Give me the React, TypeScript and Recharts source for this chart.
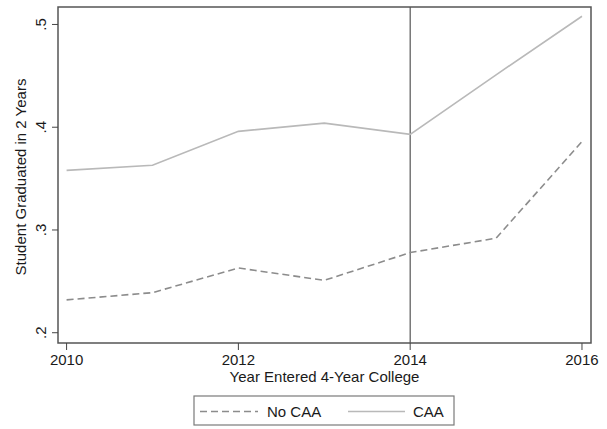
import React from 'react';
import { LineChart, Line, XAxis, YAxis, ReferenceLine, ReferenceArea } from 'recharts';

// Cohort years and share of students graduating within two years
const years = [2010, 2011, 2012, 2013, 2014, 2015, 2016];
const noCaa = [0.232, 0.239, 0.263, 0.251, 0.278, 0.292, 0.386];
const caa = [0.358, 0.363, 0.396, 0.404, 0.393, 0.451, 0.508];

const xTicks = [2010, 2012, 2014, 2016];
const yTicks = [0.2, 0.3, 0.4, 0.5];
const policyYear = 2014;

const seriesNames = { noCaa: 'No CAA', caa: 'CAA' };

const data = years.map((year, i) => ({ year, noCaa: noCaa[i], caa: caa[i] }));

const FONT = '"Liberation Sans", Arial, Helvetica, sans-serif';
const TEXT = '#1a1a1a';
const CAA_COLOR = '#b9b9b9';
const NO_CAA_COLOR = '#8c8c8c';

// Stata-style tick labels: leading zero dropped, rotated on the y axis
const fmt = (v: number) => v.toFixed(1).replace(/^0/, '');

const YTick = (props: any) => {
  const { x, y, payload } = props;
  const bx = x - 4;
  return (
    <text
      x={bx}
      y={y}
      transform={`rotate(-90, ${bx}, ${y})`}
      textAnchor="middle"
      fontFamily={FONT}
      fontSize={15}
      fill={TEXT}
    >
      {fmt(payload.value)}
    </text>
  );
};

const XTick = (props: any) => {
  const { x, y, payload } = props;
  return (
    <text x={x} y={y + 13} textAnchor="middle" fontFamily={FONT} fontSize={15} fill={TEXT}>
      {payload.value}
    </text>
  );
};

const Legend = () => (
  <svg
    width={262}
    height={31}
    style={{ position: 'absolute', left: 193, top: 395 }}
  >
    <rect x={1} y={1} width={260} height={29} fill="#fff" stroke="#7a7a7a" strokeWidth={1.2} />
    <line x1={7} y1={16.5} x2={65} y2={16.5} stroke={NO_CAA_COLOR} strokeWidth={1.5} strokeDasharray="7 4" />
    <text x={74} y={22} fontFamily={FONT} fontSize={15} fill={TEXT}>{seriesNames.noCaa}</text>
    <line x1={155} y1={16.5} x2={212} y2={16.5} stroke={CAA_COLOR} strokeWidth={1.5} />
    <text x={220} y={22} fontFamily={FONT} fontSize={15} fill={TEXT}>{seriesNames.caa}</text>
  </svg>
);

const App: React.FC = () => (
  <div style={{ position: 'absolute', left: 0, top: 0, width: 607, height: 429, background: '#fff' }}>
    <LineChart width={607} height={429} data={data} margin={{ top: 7, right: 16, left: 0, bottom: 0 }}>
      <XAxis
        dataKey="year"
        type="number"
        domain={[2009.9, 2016.105]}
        ticks={xTicks}
        height={86}
        tickSize={7}
        tick={<XTick />}
        axisLine={false}
        tickLine={{ stroke: '#444', strokeWidth: 1 }}
        label={{
          content: ({ viewBox }: any) => (
            <text
              x={viewBox.x + viewBox.width / 2}
              y={viewBox.y + 39}
              textAnchor="middle"
              fontFamily={FONT}
              fontSize={15}
              fill={TEXT}
            >
              Year Entered 4-Year College
            </text>
          ),
        }}
      />
      <YAxis
        type="number"
        domain={[0.19, 0.517]}
        ticks={yTicks}
        width={58}
        tickSize={6}
        tick={<YTick />}
        axisLine={false}
        tickLine={{ stroke: '#444', strokeWidth: 1 }}
        label={{
          content: ({ viewBox }: any) => {
            const lx = 26;
            const ly = viewBox.y + viewBox.height / 2 + 2;
            return (
              <text
                x={lx}
                y={ly}
                transform={`rotate(-90, ${lx}, ${ly})`}
                textAnchor="middle"
                fontFamily={FONT}
                fontSize={15}
                fill={TEXT}
              >
                Student Graduated in 2 Years
              </text>
            );
          },
        }}
      />
      <ReferenceArea
        x1={2009.9}
        x2={2016.105}
        y1={0.19}
        y2={0.517}
        fill="none"
        stroke="#555"
        strokeWidth={1.5}
        ifOverflow="visible"
      />
      <ReferenceLine x={policyYear} stroke="#555" strokeWidth={1.2} />
      <Line
        dataKey="noCaa"
        name={seriesNames.noCaa}
        stroke={NO_CAA_COLOR}
        strokeWidth={1.6}
        strokeDasharray="7 4"
        dot={false}
        isAnimationActive={false}
      />
      <Line
        dataKey="caa"
        name={seriesNames.caa}
        stroke={CAA_COLOR}
        strokeWidth={1.6}
        dot={false}
        isAnimationActive={false}
      />
    </LineChart>
    <Legend />
  </div>
);

export default App;
